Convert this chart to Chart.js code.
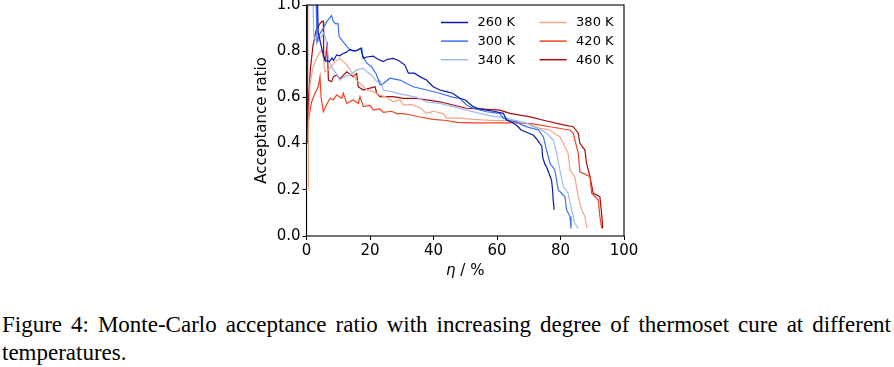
<!DOCTYPE html>
<html>
<head>
<meta charset="utf-8">
<script src="https://cdn.jsdelivr.net/npm/chart.js@4.4.0/dist/chart.umd.min.js"></script>
<style>
  html, body { margin: 0; padding: 0; background: #fff; width: 894px; height: 367px; overflow: hidden; }
  #wrap { position: absolute; left: 0; top: -20px; width: 894px; height: 310px; }
  .cap { position: absolute; left: 2px; font-family: "Liberation Serif", serif; font-size: 23px; line-height: 28px; color: #000; white-space: nowrap; }
  #cap1 { top: 311px; width: 889px; text-align: justify; text-align-last: justify; }
  #cap2 { top: 339px; }
</style>
</head>
<body>
<div id="wrap"><canvas id="accChart"></canvas></div>
<div class="cap" id="cap1">Figure 4: Monte-Carlo acceptance ratio with increasing degree of thermoset cure at different</div>
<div class="cap" id="cap2">temperatures.</div>
<script>
// ===== DATOS =====
const temps = ['260 K', '300 K', '340 K', '380 K', '420 K', '460 K'];
const colores = ['#0d1aa6', '#3a6ff2', '#9fbaf2', '#f3a585', '#ee4420', '#a80c0c'];
const xTicks = [0, 20, 40, 60, 80, 100];
const yTicks = [0.0, 0.2, 0.4, 0.6, 0.8, 1.0];

const eta260 = [3.4, 3.7, 5.0, 5.8, 7.2, 8.0, 8.5, 9.5, 10.5, 11.5, 12.5, 13.7, 15.5, 17.1, 17.9, 19.0, 21.0, 22.5, 24.2, 25.5, 27.3, 29.0, 31.0, 32.1, 34.0, 35.7, 37.8, 39.9, 42.0, 44.1, 46.0, 48.3, 50.0, 52.5, 54.5, 56.7, 59.0, 62.0, 63.0, 65.0, 66.5, 67.5, 70.0, 71.4, 72.5, 73.5, 74.1, 74.4, 75.1, 75.6, 76.7, 77.2, 77.5, 77.7, 78.0];
const acc260 = [1.05, 0.88, 0.80, 0.76, 0.755, 0.77, 0.76, 0.784, 0.78, 0.79, 0.795, 0.808, 0.80, 0.813, 0.769, 0.775, 0.779, 0.765, 0.755, 0.765, 0.769, 0.76, 0.74, 0.705, 0.705, 0.69, 0.675, 0.646, 0.632, 0.625, 0.618, 0.596, 0.589, 0.56, 0.55, 0.545, 0.54, 0.531, 0.502, 0.49, 0.475, 0.46, 0.445, 0.437, 0.42, 0.40, 0.39, 0.34, 0.31, 0.30, 0.26, 0.24, 0.20, 0.156, 0.113];

const eta300 = [3.0, 3.3, 4.0, 5.3, 6.5, 7.9, 8.4, 9.2, 9.9, 10.3, 11.5, 13.7, 14.7, 16.3, 17.4, 17.7, 19.0, 20.5, 22.0, 23.2, 24.2, 26.3, 29.4, 30.5, 33.6, 37.9, 42.0, 46.2, 48.3, 50.4, 52.5, 56.7, 60.9, 62.0, 64.0, 66.0, 68.0, 70.0, 73.0, 74.6, 75.6, 76.7, 78.2, 79.3, 81.4, 81.9, 83.0, 83.3];
const acc300 = [1.05, 0.84, 0.87, 0.90, 0.93, 0.954, 0.93, 0.918, 0.92, 0.863, 0.841, 0.805, 0.80, 0.805, 0.813, 0.78, 0.748, 0.733, 0.70, 0.654, 0.66, 0.683, 0.675, 0.668, 0.646, 0.632, 0.618, 0.60, 0.596, 0.567, 0.553, 0.538, 0.531, 0.51, 0.50, 0.495, 0.48, 0.47, 0.459, 0.43, 0.372, 0.315, 0.286, 0.199, 0.17, 0.113, 0.084, 0.033];

const eta340 = [2.0, 2.3, 3.5, 4.5, 5.5, 6.3, 7.0, 8.0, 9.5, 10.5, 12.0, 13.7, 15.8, 17.9, 19.0, 20.5, 22.1, 23.1, 24.2, 26.8, 29.4, 31.5, 34.7, 37.9, 42.0, 46.2, 50.4, 54.6, 58.0, 61.0, 63.0, 66.0, 69.0, 72.0, 74.0, 75.6, 77.7, 78.8, 79.8, 80.9, 82.4, 83.5, 84.5, 85.6];
const acc340 = [1.05, 0.86, 0.84, 0.86, 0.88, 0.84, 0.76, 0.73, 0.70, 0.675, 0.69, 0.697, 0.719, 0.726, 0.711, 0.697, 0.668, 0.675, 0.632, 0.625, 0.615, 0.61, 0.60, 0.58, 0.574, 0.56, 0.545, 0.531, 0.52, 0.515, 0.51, 0.50, 0.49, 0.47, 0.459, 0.445, 0.416, 0.358, 0.286, 0.213, 0.185, 0.113, 0.055, 0.033];

const eta380 = [0.5, 0.6, 1.1, 2.1, 3.7, 4.8, 5.2, 5.8, 7.4, 9.0, 10.5, 11.6, 12.7, 14.2, 15.8, 17.4, 19.0, 21.0, 23.1, 25.3, 27.3, 29.4, 30.5, 33.0, 35.7, 37.8, 40.0, 43.1, 44.1, 48.3, 52.5, 58.8, 63.0, 69.3, 73.5, 76.7, 78.5, 79.8, 80.9, 82.4, 83.0, 84.5, 85.6, 86.65, 87.7, 88.4];
const acc380 = [0.2, 0.45, 0.66, 0.733, 0.784, 0.805, 0.78, 0.711, 0.726, 0.755, 0.769, 0.755, 0.74, 0.711, 0.675, 0.654, 0.632, 0.625, 0.61, 0.60, 0.581, 0.59, 0.567, 0.57, 0.555, 0.531, 0.54, 0.53, 0.51, 0.51, 0.505, 0.50, 0.50, 0.488, 0.466, 0.459, 0.44, 0.43, 0.40, 0.358, 0.286, 0.257, 0.17, 0.113, 0.084, 0.033];

const eta420 = [0.4, 0.6, 1.6, 2.7, 3.7, 4.25, 4.6, 5.3, 6.4, 7.4, 8.4, 9.5, 11.1, 11.6, 12.7, 14.7, 16.3, 16.85, 17.9, 20.0, 21.0, 23.1, 24.2, 26.8, 28.4, 30.5, 32.6, 35.7, 39.9, 44.1, 47.3, 52.5, 60.9, 66.2, 71.4, 76.7, 81.4, 83.0, 84.0, 85.6, 86.1, 89.3, 89.8, 91.9, 92.4, 93.0];
const acc420 = [0.40, 0.50, 0.58, 0.618, 0.646, 0.69, 0.60, 0.538, 0.57, 0.596, 0.59, 0.61, 0.596, 0.618, 0.574, 0.589, 0.574, 0.603, 0.56, 0.565, 0.545, 0.55, 0.535, 0.54, 0.53, 0.53, 0.525, 0.515, 0.505, 0.50, 0.492, 0.49, 0.49, 0.49, 0.485, 0.473, 0.462, 0.459, 0.445, 0.358, 0.278, 0.257, 0.185, 0.156, 0.084, 0.033];

const eta460 = [0.3, 0.35, 0.6, 1.2, 2.0, 3.0, 4.0, 4.8, 5.3, 5.4, 6.0, 6.5, 6.9, 7.9, 8.5, 9.5, 10.5, 12.7, 14.7, 15.8, 16.3, 17.9, 20.0, 21.6, 22.1, 23.1, 27.3, 30.5, 34.7, 37.8, 42.0, 46.2, 50.4, 54.6, 60.9, 64.1, 70.4, 75.0, 80.9, 84.0, 85.6, 86.1, 87.7, 88.2, 89.3, 89.8, 90.3, 92.4, 92.95, 93.3];
const acc460 = [1.05, 0.40, 0.574, 0.72, 0.82, 0.89, 0.915, 0.928, 0.93, 0.78, 0.76, 0.84, 0.675, 0.668, 0.69, 0.697, 0.68, 0.711, 0.69, 0.704, 0.646, 0.632, 0.64, 0.646, 0.618, 0.603, 0.603, 0.596, 0.596, 0.589, 0.581, 0.567, 0.553, 0.55, 0.545, 0.531, 0.516, 0.50, 0.481, 0.473, 0.445, 0.401, 0.372, 0.315, 0.257, 0.22, 0.185, 0.17, 0.098, 0.033];

const etas = [eta260, eta300, eta340, eta380, eta420, eta460];
const accs = [acc260, acc300, acc340, acc380, acc420, acc460];

/* ===== PLUGIN: marco, leyenda interior y título del eje x ===== */
const marcoPlugin = {
    id: 'marco',
    afterDatasetsDraw(chart) {
        const { ctx, chartArea: a } = chart;
        ctx.save();
        ctx.strokeStyle = '#000';
        ctx.lineWidth = 1.1;
        ctx.strokeRect(a.left, a.top, a.right - a.left, a.bottom - a.top);

        // leyenda en dos columnas
        ctx.font = '13px "DejaVu Sans"';
        ctx.textBaseline = 'middle';
        ctx.fillStyle = '#000';
        chart.data.datasets.forEach((ds, i) => {
            const col = Math.floor(i / 3);
            const row = i % 3;
            const x0 = a.left + 134.5 + col * 98.6;
            const y0 = a.top + 17.5 + row * 18.6;
            ctx.strokeStyle = ds.borderColor;
            ctx.lineWidth = 1.5;
            ctx.beginPath();
            ctx.moveTo(x0, y0);
            ctx.lineTo(x0 + 27, y0);
            ctx.stroke();
            ctx.fillText(ds.label, x0 + 36.5, y0 + 0.5);
        });

        // título del eje x: η en cursiva
        const cx = (a.left + a.right) / 2;
        const cy = a.bottom + 35;
        ctx.font = 'italic 15px "DejaVu Sans"';
        const w1 = ctx.measureText('η').width;
        ctx.font = '15px "DejaVu Sans"';
        const w2 = ctx.measureText(' / %').width;
        let x = cx - (w1 + w2) / 2;
        ctx.textAlign = 'left';
        ctx.font = 'italic 15px "DejaVu Sans"';
        ctx.fillText('η', x, cy);
        ctx.font = '15px "DejaVu Sans"';
        ctx.fillText(' / %', x + w1, cy);
        ctx.restore();
    }
};

function createChart() {
    const ctx = document.getElementById('accChart').getContext('2d');
    const datasets = temps.map((t, i) => ({
        label: t,
        data: etas[i].map((e, k) => ({ x: e, y: accs[i][k] })),
        borderColor: colores[i],
        backgroundColor: 'transparent',
        borderWidth: 1.2,
        pointRadius: 0,
        tension: 0,
        fill: false
    }));

    new Chart(ctx, {
        type: 'line',
        data: { datasets },
        plugins: [marcoPlugin],
        options: {
            responsive: true,
            maintainAspectRatio: false,
            animation: false,
            devicePixelRatio: 1,
            layout: { padding: { left: 240, right: 270, top: 25, bottom: 0 } },
            plugins: {
                legend: { display: false },
                tooltip: { enabled: false }
            },
            scales: {
                x: {
                    type: 'linear',
                    min: 0,
                    max: 100,
                    afterBuildTicks: s => { s.ticks = xTicks.map(v => ({ value: v })); },
                    afterFit: s => { s.height = 54; },
                    ticks: {
                        font: { family: 'DejaVu Sans', size: 15 },
                        color: '#000',
                        padding: 2,
                        maxRotation: 0,
                        callback: v => String(v)
                    },
                    grid: { drawOnChartArea: false, drawTicks: true, tickLength: 4, color: '#000' },
                    border: { display: false }
                },
                y: {
                    type: 'linear',
                    min: 0,
                    max: 1,
                    afterBuildTicks: s => { s.ticks = yTicks.map(v => ({ value: v })); },
                    afterFit: s => { s.width = 66.5; },
                    ticks: {
                        font: { family: 'DejaVu Sans', size: 15 },
                        color: '#000',
                        padding: 2,
                        callback: v => Number(v).toFixed(1)
                    },
                    grid: { drawOnChartArea: false, drawTicks: true, tickLength: 4, color: '#000' },
                    border: { display: false },
                    title: {
                        display: true,
                        text: 'Acceptance ratio',
                        font: { family: 'DejaVu Sans', size: 15 },
                        color: '#000',
                        padding: { top: 13, bottom: 0 }
                    }
                }
            }
        }
    });
}

document.addEventListener('DOMContentLoaded', createChart);
</script>
</body>
</html>
